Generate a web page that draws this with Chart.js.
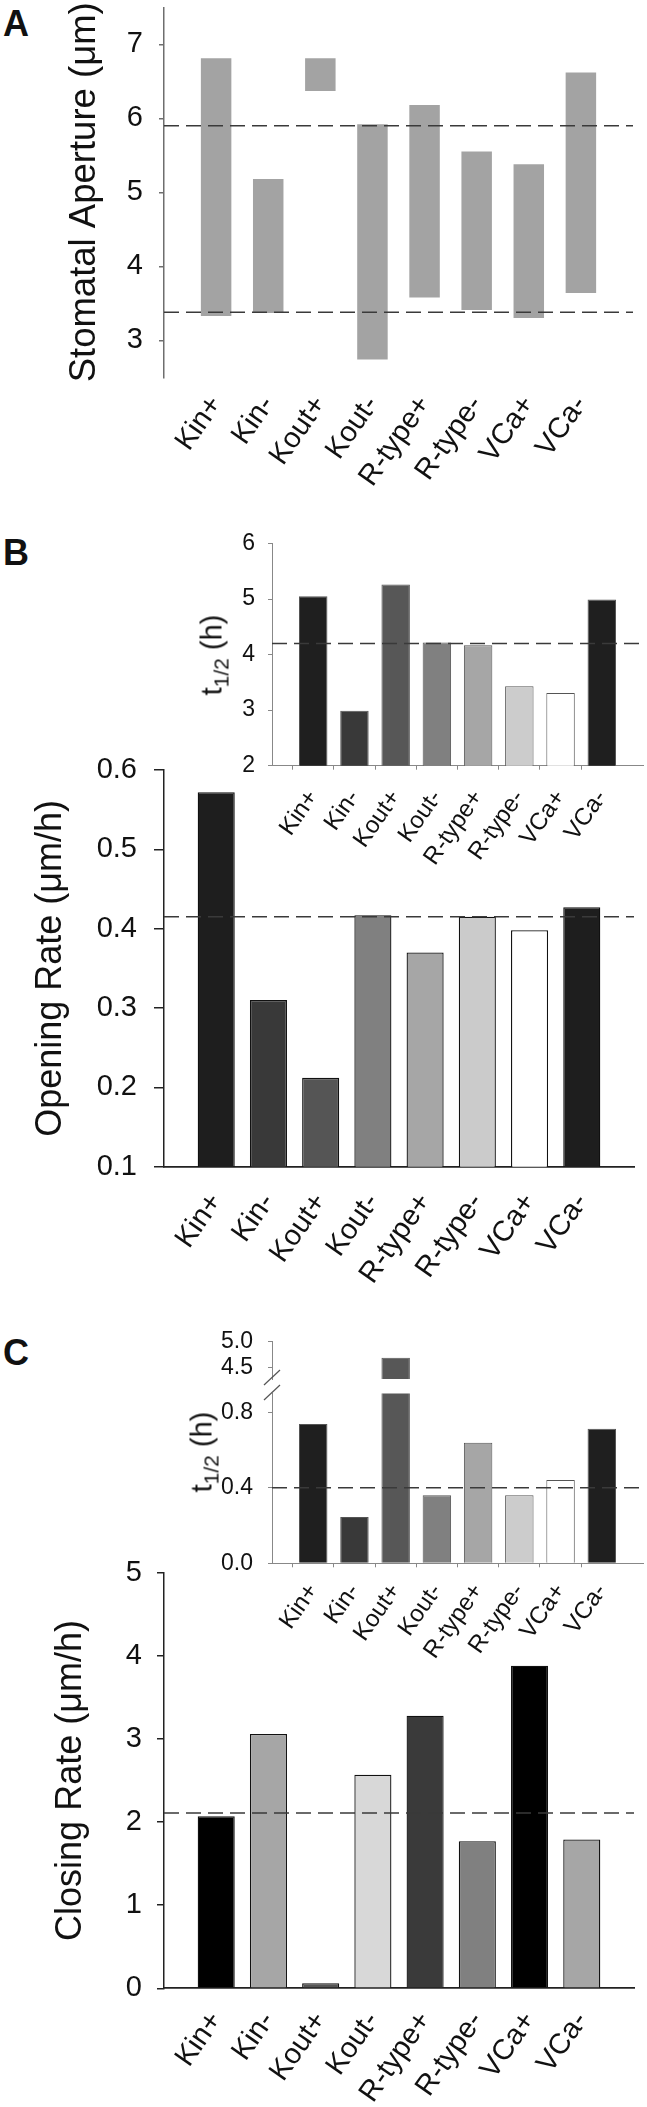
<!DOCTYPE html>
<html>
<head>
<meta charset="utf-8">
<title>Stomatal aperture, opening and closing rates</title>
<script src="https://cdn.jsdelivr.net/npm/chart.js@4.4.1/dist/chart.umd.min.js"></script>
<style>
  body { margin: 0; background: #fff; }
  #page { position: relative; width: 647px; height: 2107px; overflow: hidden; font-family: 'Liberation Sans', Arial, sans-serif; color: #111; }
  #page canvas { position: absolute; left: 0; }
  .panel-letter { position: absolute; left: 3px; font-weight: bold; font-size: 36px; line-height: 36px; }
  .inset-title { position: absolute; font-size: 29px; line-height: 29px; white-space: nowrap; transform: translate(-50%, -50%) rotate(-90deg); }
  .inset-title sub { font-size: 21px; vertical-align: -7px; line-height: 0; }
</style>
</head>
<body>
<div id="page">
  <div class="panel-letter" style="top: 6px;">A</div>
  <div class="panel-letter" style="top: 535px;">B</div>
  <div class="panel-letter" style="top: 1335px;">C</div>
</div>
<script>
// Channel conditions (x categories, shared by every panel)
const categories = ['Kin+', 'Kin-', 'Kout+', 'Kout-', 'R-type+', 'R-type-', 'VCa+', 'VCa-'];

// A: stomatal aperture range (um)
const apertureLow = [3.33, 3.37, 6.37, 2.74, 3.58, 3.41, 3.30, 3.64];
const apertureHigh = [6.81, 5.18, 6.81, 5.92, 6.18, 5.55, 5.38, 6.62];
const apertureRefs = [5.90, 3.38];
const apertureTicks = [3, 4, 5, 6, 7];

// B: opening rate (um/h) and inset t1/2 (h)
const openingRate = [0.572, 0.310, 0.212, 0.417, 0.370, 0.415, 0.398, 0.427];
const openingRateRef = 0.415;
const openingRateTicks = [0.1, 0.2, 0.3, 0.4, 0.5, 0.6];
const openingHalfTime = [5.05, 2.99, 5.26, 4.22, 4.17, 3.43, 3.31, 4.99];
const openingHalfTimeRef = 4.2;
const openingHalfTimeTicks = [2, 3, 4, 5, 6];

// C: closing rate (um/h) and inset t1/2 (h) with broken axis
const closingRate = [2.07, 3.06, 0.06, 2.57, 3.28, 1.77, 3.88, 1.79];
const closingRateRef = 2.11;
const closingRateTicks = [0, 1, 2, 3, 4, 5];
const closingHalfTime = [0.738, 0.246, 4.69, 0.361, 0.639, 0.361, 0.442, 0.713];
const closingHalfTimeRef = 0.40;
const closingHalfTimeTicksLow = [0, 0.4, 0.8];
const closingHalfTimeTicksHigh = [4.5, 5.0];

// Bar fills
const openingColors = ['#1e1e1e', '#393939', '#555555', '#808080', '#a6a6a6', '#cbcbcb', '#ffffff', '#1e1e1e'];
const closingColors = ['#000000', '#a6a6a6', '#555555', '#d8d8d8', '#3a3a3a', '#808080', '#000000', '#a6a6a6'];
const insetColors = ['#1f1f1f', '#393939', '#575757', '#808080', '#a6a6a6', '#cccccc', '#ffffff', '#1f1f1f'];

const W = 647;
const labels = ['', ...categories, ''];
const padded = arr => [null, ...arr, null];

Chart.defaults.font.family = "'Liberation Sans', Arial, Helvetica, sans-serif";
Chart.defaults.color = '#111';

// Dashed mean lines
const refLinePlugin = {
    id: 'refLine',
    afterDatasetsDraw(chart, args, opts) {
        if (!opts.values || !opts.values.length) return;
        const { ctx, chartArea } = chart;
        const y = chart.scales.y;
        ctx.save();
        ctx.strokeStyle = '#3a3a3a';
        ctx.lineWidth = 1.5;
        ctx.setLineDash([15, 7]);
        opts.values.forEach(v => {
            const py = y.getPixelForValue(v);
            ctx.beginPath();
            ctx.moveTo(chartArea.left, py);
            ctx.lineTo(chartArea.right, py);
            ctx.stroke();
        });
        ctx.restore();
    }
};

// Slash marks for the broken axis
const axisBreakPlugin = {
    id: 'axisBreak',
    afterDraw(chart, args, opts) {
        if (!opts.edge) return;
        const { ctx, chartArea } = chart;
        const x = chartArea.left;
        const y = opts.edge === 'bottom' ? chartArea.bottom - 1.5 : chartArea.top - 1;
        ctx.save();
        ctx.strokeStyle = '#555';
        ctx.lineWidth = 1.2;
        ctx.beginPath();
        ctx.moveTo(x - 8, y + 7.5);
        ctx.lineTo(x + 8, y - 7.5);
        ctx.stroke();
        ctx.restore();
    }
};

Chart.register(refLinePlugin, axisBreakPlugin);

function addCanvas(top, height) {
    const c = document.createElement('canvas');
    c.width = W;
    c.height = height;
    c.style.top = top + 'px';
    c.style.width = W + 'px';
    c.style.height = height + 'px';
    document.getElementById('page').appendChild(c);
    return c;
}

// Pin the plot area of a canvas to page coordinates
function frame(top, height, area) {
    return {
        padding: { left: 0, top: area.top - top, right: W - area.right, bottom: 0 },
        yFit: s => { s.width = area.left; s.paddingTop = 0; s.paddingBottom = 0; },
        xFit: s => { s.height = top + height - area.bottom; s.paddingLeft = 0; s.paddingRight = 0; }
    };
}

function chartOptions(f, y, x, extra) {
    return {
        responsive: false,
        animation: false,
        devicePixelRatio: 1,
        layout: { padding: f.padding },
        plugins: {
            legend: { display: false },
            tooltip: { enabled: false },
            refLine: { values: extra.refs || [] },
            axisBreak: { edge: extra.brk || null }
        },
        scales: {
            x: {
                type: 'category',
                display: x.display !== false,
                offset: false,
                afterFit: f.xFit,
                border: { display: !!x.borderWidth, color: x.color, width: x.borderWidth || 0 },
                grid: {
                    display: !!x.tickLength,
                    drawOnChartArea: false,
                    drawTicks: !!x.tickLength,
                    tickLength: x.tickLength || 0,
                    lineWidth: 1,
                    color: ctx => (ctx.index === 0 || ctx.index === labels.length - 1) ? 'rgba(0,0,0,0)' : x.color
                },
                ticks: { autoSkip: false, minRotation: 55, maxRotation: 55, padding: x.padding || 0, font: { size: x.size || 12 } }
            },
            y: {
                min: y.min,
                max: y.max,
                afterBuildTicks: s => { s.ticks = y.ticks.map(v => ({ value: v })); },
                afterFit: f.yFit,
                border: { display: true, color: y.color, width: y.borderWidth },
                grid: { drawOnChartArea: false, drawTicks: true, tickLength: y.tickLength, color: y.color, lineWidth: y.borderWidth },
                ticks: { padding: y.padding, font: { size: y.size }, callback: v => y.format ? y.format(v) : v },
                title: { display: !!y.title, text: y.title || '', font: { size: y.titleSize || 36 }, padding: { top: y.titleOffset || 0, bottom: 0 } }
            }
        }
    };
}

function barSet(values, colors, border, pct) {
    return {
        data: padded(values),
        backgroundColor: padded(colors),
        borderColor: border ? border.color : 'rgba(0,0,0,0)',
        borderWidth: border ? border.width : 0,
        categoryPercentage: 1,
        barPercentage: pct,
        clip: 0
    };
}

// Panel A
const fA = frame(0, 540, { left: 164, right: 633, top: 7.3, bottom: 377.3 });
new Chart(addCanvas(0, 540), {
    type: 'bar',
    data: {
        labels,
        datasets: [barSet(apertureLow.map((lo, i) => [lo, apertureHigh[i]]), categories.map(() => '#a3a3a3'), null, 0.585)]
    },
    options: chartOptions(fA,
        { min: 2.5, max: 7.5, ticks: apertureTicks, color: '#6e6e6e', borderWidth: 1.5, tickLength: 5, padding: 16, size: 29, title: 'Stomatal Aperture (\u03bcm)', titleSize: 36.5, titleOffset: 63 },
        { borderWidth: 0, tickLength: 0, padding: 12, size: 29 },
        { refs: apertureRefs })
});

// Panel B main
const fB = frame(730, 580, { left: 164, right: 634, top: 770, bottom: 1166.7 });
new Chart(addCanvas(730, 580), {
    type: 'bar',
    data: { labels, datasets: [barSet(openingRate, openingColors, { color: '#111', width: 1.3 }, 0.71)] },
    options: chartOptions(fB,
        { min: 0.1, max: 0.6, ticks: openingRateTicks, color: '#222', borderWidth: 1.5, tickLength: 10, padding: 17, size: 29, format: v => v.toFixed(1), title: 'Opening Rate (\u03bcm/h)', titleOffset: 29 },
        { color: '#222', borderWidth: 1.8, tickLength: 0, padding: 20, size: 29 },
        { refs: [openingRateRef] })
});

// Panel B inset
const fBi = frame(500, 400, { left: 272, right: 643, top: 543.5, bottom: 765.7 });
new Chart(addCanvas(500, 400), {
    type: 'bar',
    data: { labels, datasets: [barSet(openingHalfTime, insetColors, { color: '#555', width: 1 }, 0.69)] },
    options: chartOptions(fBi,
        { min: 2, max: 6, ticks: openingHalfTimeTicks, color: '#888', borderWidth: 1, tickLength: 4, padding: 13, size: 23 },
        { color: '#888', borderWidth: 1, tickLength: 4, padding: 15, size: 24 },
        { refs: [openingHalfTimeRef] })
});

// Panel C main
const fC = frame(1540, 567, { left: 164, right: 634, top: 1572.7, bottom: 1988.3 });
new Chart(addCanvas(1540, 567), {
    type: 'bar',
    data: { labels, datasets: [barSet(closingRate, closingColors, { color: '#111', width: 1.3 }, 0.71)] },
    options: chartOptions(fC,
        { min: 0, max: 5, ticks: closingRateTicks, color: '#222', borderWidth: 1.5, tickLength: 7, padding: 15, size: 29, title: 'Closing Rate (\u03bcm/h)', titleOffset: 49 },
        { color: '#222', borderWidth: 1.8, tickLength: 0, padding: 17, size: 29 },
        { refs: [closingRateRef] })
});

// Panel C inset, upper segment of the broken axis
const fCu = frame(1320, 70, { left: 272, right: 643, top: 1341.7, bottom: 1379 });
new Chart(addCanvas(1320, 70), {
    type: 'bar',
    data: { labels, datasets: [barSet(closingHalfTime, insetColors, { color: '#555', width: 1 }, 0.69)] },
    options: chartOptions(fCu,
        { min: 4.28, max: 5.0, ticks: closingHalfTimeTicksHigh, color: '#888', borderWidth: 1, tickLength: 4, padding: 15, size: 23, format: v => v.toFixed(1) },
        { display: false },
        { brk: 'bottom' })
});

// Panel C inset, lower segment
const fCl = frame(1384, 316, { left: 272, right: 643, top: 1393.5, bottom: 1563.3 });
new Chart(addCanvas(1384, 316), {
    type: 'bar',
    data: { labels, datasets: [barSet(closingHalfTime, insetColors, { color: '#555', width: 1 }, 0.69)] },
    options: chartOptions(fCl,
        { min: 0, max: 0.9, ticks: closingHalfTimeTicksLow, color: '#888', borderWidth: 1, tickLength: 4, padding: 15, size: 23, format: v => v.toFixed(1) },
        { color: '#888', borderWidth: 1, tickLength: 4, padding: 11, size: 24 },
        { refs: [closingHalfTimeRef], brk: 'top' })
});

// Inset axis titles with subscript
[[212, 655], [202, 1452]].forEach(([x, y]) => {
    const t = document.createElement('div');
    t.className = 'inset-title';
    t.style.left = x + 'px';
    t.style.top = y + 'px';
    t.innerHTML = 't<sub>1/2</sub> (h)';
    document.getElementById('page').appendChild(t);
});
</script>
</body>
</html>
